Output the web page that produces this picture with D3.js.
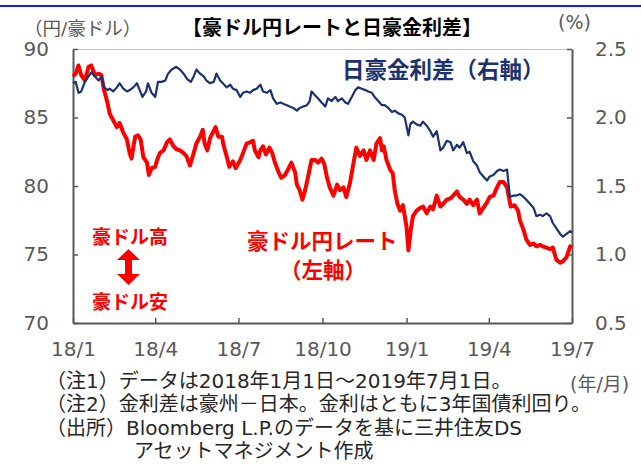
<!DOCTYPE html>
<html lang="ja">
<head>
<meta charset="utf-8">
<script src="https://cdn.jsdelivr.net/npm/d3@7"></script>
<style>
  body { margin: 0; background: #fff; }
  svg { display: block; }
  .tick text { font-family: "DejaVu Sans", sans-serif; font-size: 20px; fill: #595959; }
  .jp { font-family: "DejaVu Sans", "Noto Sans CJK JP", sans-serif; }
</style>
</head>
<body>
<svg id="chart"></svg>
<script>
// AUD/JPY rate (left axis), days since 2018-01-01
const rateDay = [0, 3, 6, 9, 13, 17, 20, 24, 28, 31, 34, 38, 40, 44, 48, 51, 55, 59, 62, 64,
  68, 71, 74, 77, 81, 83, 86, 90, 92, 95, 99, 103, 106, 110, 113, 117, 121, 124, 128, 132,
  135, 139, 142, 144, 147, 150, 153, 156, 159, 163, 165, 168, 171, 175, 178, 183, 186, 190, 194, 197,
  199, 203, 205, 208, 211, 215, 218, 221, 225, 228, 232, 236, 239, 243, 245, 248, 251, 254, 257, 261,
  265, 268, 272, 275, 278, 281, 285, 289, 292, 296, 299, 303, 307, 310, 314, 318, 321, 325, 329, 332,
  336, 338, 340, 343, 347, 350, 352, 355, 358, 361, 365, 367, 370, 372, 376, 380, 383, 387, 391, 394,
  398, 402, 405, 409, 413, 416, 420, 423, 427, 431, 434, 438, 442, 445, 449, 453, 456, 460, 464, 467,
  471, 475, 476, 479, 483, 487, 489, 493, 496, 500, 504, 507, 511, 514, 518, 522, 525, 529, 533, 536,
  540, 544, 546];
const rateValue = [88.0, 88.2, 88.8, 88.1, 87.7, 88.7, 88.8, 88.1, 88.2, 88.1, 87.0, 86.0, 85.3, 84.8, 84.3, 84.6, 83.9, 83.4, 82.4, 82.0,
  83.6, 83.7, 83.4, 82.1, 81.7, 80.8, 81.3, 81.4, 81.9, 82.4, 82.6, 83.2, 83.4, 82.9, 82.7, 82.6, 82.4, 82.2, 81.5, 82.4,
  83.1, 83.6, 84.1, 83.1, 82.6, 83.5, 83.9, 84.3, 83.6, 83.6, 82.9, 82.2, 81.4, 81.8, 81.3, 81.9, 82.4, 83.1, 83.2, 83.3,
  82.6, 82.1, 82.6, 82.9, 82.3, 82.8, 82.4, 81.7, 81.0, 80.6, 80.8, 81.3, 81.7, 81.0, 80.1, 79.7, 79.0, 79.7, 80.6, 81.9,
  81.9, 81.7, 82.0, 81.6, 80.6, 79.9, 79.3, 80.1, 79.7, 79.9, 79.2, 80.2, 81.7, 82.8, 82.2, 82.6, 81.9, 82.6, 81.9, 83.1,
  83.5, 82.6, 82.9, 81.9, 81.2, 80.9, 79.7, 78.7, 78.2, 78.6, 77.0, 75.3, 77.0, 77.8, 78.2, 78.4, 78.5, 78.0, 78.5, 78.3,
  79.3, 78.5, 78.7, 79.0, 79.1, 79.3, 79.6, 79.2, 79.0, 78.7, 79.0, 78.6, 79.0, 78.0, 78.4, 78.8, 79.2, 79.3, 79.9, 80.3,
  80.3, 79.9, 79.5, 78.5, 78.6, 78.2, 77.5, 76.8, 76.1, 75.7, 75.8, 75.6, 75.7, 75.6, 75.5, 75.4, 75.5, 74.6, 74.4, 74.5,
  74.8, 75.6, 75.5];

// Japan-Australia 3y yield spread (right axis), days since 2018-01-01
const spreadDay = [0, 3, 6, 9, 13, 17, 20, 24, 28, 31, 34, 38, 40, 44, 48, 51, 55, 59, 62, 66,
  70, 73, 76, 80, 82, 86, 90, 93, 97, 101, 104, 108, 113, 117, 121, 125, 129, 132, 135, 139,
  143, 146, 150, 154, 157, 161, 164, 168, 172, 175, 179, 183, 186, 190, 194, 197, 201, 205, 208, 212,
  216, 219, 223, 227, 230, 234, 237, 241, 245, 248, 252, 256, 259, 261, 265, 268, 272, 276, 279, 283,
  287, 290, 294, 298, 301, 305, 309, 312, 316, 320, 323, 327, 330, 334, 338, 341, 345, 349, 352, 356,
  360, 363, 367, 369, 372, 376, 380, 383, 387, 391, 394, 398, 402, 405, 409, 413, 416, 420, 423, 427,
  431, 434, 438, 442, 445, 449, 453, 456, 460, 464, 467, 471, 475, 476, 478, 482, 485, 489, 493, 496,
  500, 504, 507, 511, 514, 518, 522, 525, 529, 533, 536, 540, 544, 546];
const spreadValue = [2.25, 2.26, 2.18, 2.19, 2.26, 2.30, 2.33, 2.30, 2.27, 2.30, 2.22, 2.20, 2.21, 2.19, 2.22, 2.25, 2.21, 2.19, 2.20, 2.22,
  2.25, 2.20, 2.15, 2.19, 2.25, 2.18, 2.15, 2.26, 2.26, 2.27, 2.32, 2.35, 2.37, 2.35, 2.32, 2.28, 2.26, 2.30, 2.35, 2.32,
  2.30, 2.27, 2.25, 2.26, 2.32, 2.27, 2.25, 2.22, 2.24, 2.21, 2.20, 2.15, 2.18, 2.19, 2.18, 2.20, 2.21, 2.24, 2.19, 2.18,
  2.20, 2.14, 2.10, 2.11, 2.10, 2.09, 2.08, 2.07, 2.05, 2.07, 2.08, 2.09, 2.12, 2.19, 2.16, 2.14, 2.11, 2.08, 2.14, 2.12,
  2.15, 2.12, 2.14, 2.11, 2.10, 2.15, 2.20, 2.22, 2.21, 2.20, 2.19, 2.18, 2.15, 2.12, 2.09, 2.09, 2.07, 2.04, 2.05, 2.03,
  2.02, 2.00, 1.87, 1.95, 1.97, 1.95, 1.94, 1.97, 1.94, 1.90, 1.86, 1.90, 1.76, 1.78, 1.83, 1.82, 1.76, 1.80, 1.78, 1.82,
  1.74, 1.75, 1.68, 1.65, 1.60, 1.57, 1.54, 1.57, 1.58, 1.61, 1.62, 1.61, 1.62, 1.55, 1.42, 1.43, 1.43, 1.44, 1.42, 1.40,
  1.37, 1.34, 1.28, 1.29, 1.28, 1.30, 1.28, 1.23, 1.19, 1.15, 1.13, 1.15, 1.17, 1.16];

const leftTicks = [70, 75, 80, 85, 90];
const rightTicks = [0.5, 1.0, 1.5, 2.0, 2.5];
const xTickDates = ['2018-01-01', '2018-04-01', '2018-07-01', '2018-10-01', '2019-01-01', '2019-04-01', '2019-07-01'];
const xTickLabels = ['18/1', '18/4', '18/7', '18/10', '19/1', '19/4', '19/7'];

const notes = [
  '（注1）データは2018年1月1日～2019年7月1日。',
  '（注2）金利差は豪州－日本。金利はともに3年国債利回り。',
  '（出所）Bloomberg L.P.のデータを基に三井住友DS',
  'アセットマネジメント作成',
];

const W = 641;
const H = 464;
const margin = { top: 49, right: 69, bottom: 141, left: 73 };
const width = W - margin.left - margin.right;
const height = H - margin.top - margin.bottom;
const RED = '#ff0000';
const NAVY = '#1b3270';
const GRAY = '#595959';

const parse = d3.timeParse('%Y-%m-%d');
const start = parse('2018-01-01');
const dayToDate = (d) => d3.timeDay.offset(start, d);

const rateData = rateDay.map((d, i) => ({ date: dayToDate(d), value: rateValue[i] }));
const spreadData = spreadDay.map((d, i) => ({ date: dayToDate(d), value: spreadValue[i] }));

const svg = d3.select('#chart').attr('width', W).attr('height', H);

// header rule
svg.append('rect').attr('x', 0).attr('y', 5).attr('width', W).attr('height', 2).attr('fill', '#1a1aff');

const chart = svg.append('g').attr('transform', `translate(${margin.left},${margin.top})`);

const x = d3.scaleTime().domain([parse('2018-01-01'), parse('2019-07-01')]).range([0, width]);
const yL = d3.scaleLinear().domain([70, 90]).range([height, 0]);
const yR = d3.scaleLinear().domain([0.5, 2.5]).range([height, 0]);

// top border
chart.append('line')
  .attr('x1', 0).attr('x2', width).attr('y1', 0.5).attr('y2', 0.5)
  .attr('stroke', '#bfbfbf').attr('stroke-width', 1);

const xAxis = d3.axisBottom(x)
  .tickValues(xTickDates.map(parse))
  .tickFormat((d, i) => xTickLabels[i])
  .tickSizeInner(-5).tickSizeOuter(0).tickPadding(19);
const yAxisL = d3.axisLeft(yL).tickValues(leftTicks).tickFormat(d3.format('d'))
  .tickSizeInner(-5).tickSizeOuter(0).tickPadding(24);
const yAxisR = d3.axisRight(yR).tickValues(rightTicks).tickFormat(d3.format('.1f'))
  .tickSizeInner(-5).tickSizeOuter(0).tickPadding(23);

const styleAxis = (g) => {
  g.select('.domain').attr('stroke', GRAY).attr('stroke-width', 2);
  g.selectAll('.tick line').attr('stroke', GRAY).attr('stroke-width', 1.5);
};

chart.append('g').attr('transform', `translate(0,${height})`).call(xAxis).call(styleAxis);
chart.append('g').call(yAxisL).call(styleAxis);
chart.append('g').attr('transform', `translate(${width},0)`).call(yAxisR).call(styleAxis);

// series
chart.append('path')
  .datum(rateData)
  .attr('fill', 'none')
  .attr('stroke', RED)
  .attr('stroke-width', 4)
  .attr('stroke-linejoin', 'round')
  .attr('d', d3.line().x((d) => x(d.date)).y((d) => yL(d.value)));

chart.append('path')
  .datum(spreadData)
  .attr('fill', 'none')
  .attr('stroke', NAVY)
  .attr('stroke-width', 2.2)
  .attr('stroke-linejoin', 'round')
  .attr('d', d3.line().x((d) => x(d.date)).y((d) => yR(d.value)));

// texts
const txt = (sel, s, px, py, opts = {}) => sel.append('text')
  .attr('class', 'jp')
  .attr('x', px).attr('y', py)
  .attr('dominant-baseline', 'central')
  .attr('text-anchor', opts.anchor || 'start')
  .attr('font-size', opts.size || 19)
  .attr('font-weight', opts.weight || 'normal')
  .attr('fill', opts.color || '#000')
  .text(s);

txt(svg, '【豪ドル円レートと日豪金利差】', 332, 28, { anchor: 'middle', size: 20, weight: 'bold' });
txt(svg, '（円/豪ドル）', 24, 28, { size: 18.5, color: GRAY });
txt(svg, '(%)', 558, 22, { size: 19, color: GRAY });

txt(svg, '日豪金利差（右軸）', 342, 70, { size: 22.5, weight: 'bold', color: NAVY });
txt(svg, '豪ドル円レート', 247, 241, { size: 21.5, weight: 'bold', color: RED });
txt(svg, '（左軸）', 280, 270, { size: 21.5, weight: 'bold', color: RED });
txt(svg, '豪ドル高', 92, 237, { size: 19, weight: 'bold', color: RED });
txt(svg, '豪ドル安', 92, 302, { size: 19, weight: 'bold', color: RED });

// up/down arrow
svg.append('path')
  .attr('d', 'M128.5,249 L140,260 L132,260 L132,274 L140,274 L128.5,285 L117,274 L125,274 L125,260 L117,260 Z')
  .attr('fill', RED);

txt(svg, '(年/月)', 570, 384, { size: 19, color: GRAY });

const noteY = [381, 404, 428, 451];
notes.forEach((n, i) => {
  txt(svg, n, i === 3 ? 134 : 46, noteY[i], { size: 20, color: '#262626' });
});
</script>
</body>
</html>
